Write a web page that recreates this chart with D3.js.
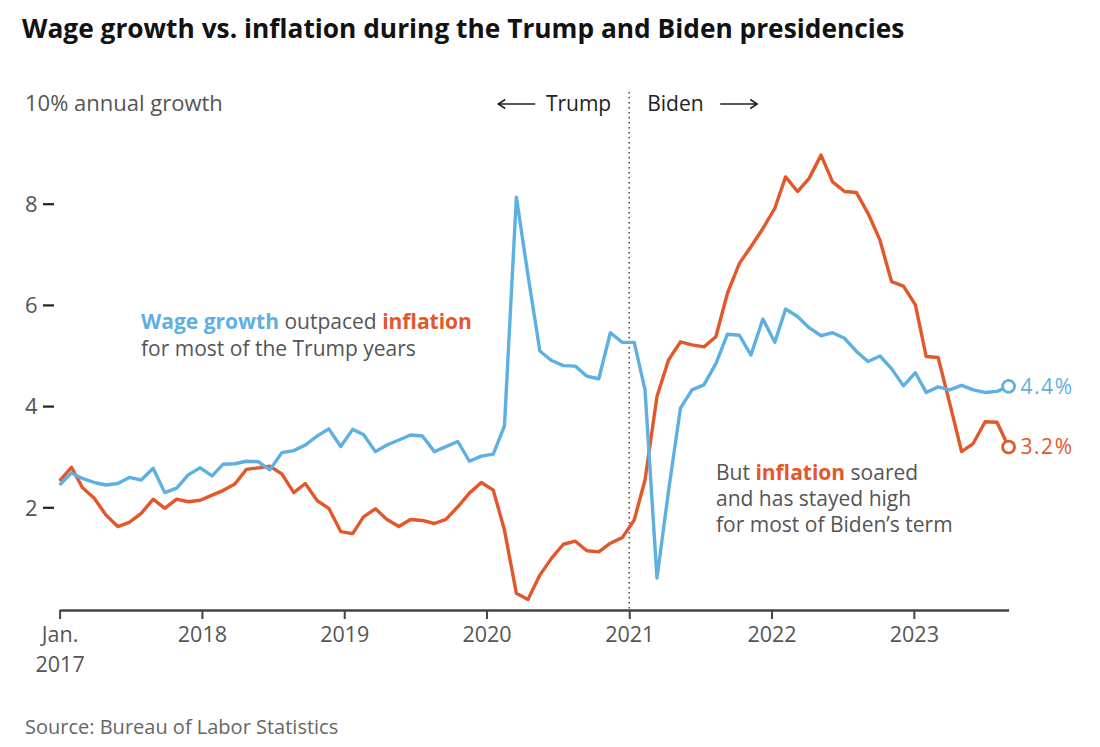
<!DOCTYPE html>
<html>
<head>
<meta charset="utf-8">
<script src="https://cdn.jsdelivr.net/npm/d3@7"></script>
<style>
  html, body { margin: 0; padding: 0; background: #fff; }
  svg text { font-family: "Open Sans", Roboto, sans-serif; }
</style>
</head>
<body>
<svg id="chart" width="1100" height="747"></svg>
<script>
// ---- Data, monthly from Jan. 2017 ----
const startMonth = new Date(2017, 0, 1);
const inflation = [
  2.53, 2.80, 2.40, 2.19, 1.86, 1.63, 1.71, 1.89, 2.17, 1.99, 2.17, 2.12,
  2.15, 2.25, 2.34, 2.47, 2.76, 2.79, 2.82, 2.67, 2.30, 2.48, 2.14, 1.99,
  1.53, 1.49, 1.82, 1.98, 1.77, 1.63, 1.77, 1.75, 1.69, 1.77, 2.02, 2.29,
  2.50, 2.35, 1.56, 0.31, 0.19, 0.67, 1.00, 1.28, 1.34, 1.15, 1.13, 1.30,
  1.41, 1.76, 2.55, 4.20, 4.92, 5.28, 5.22, 5.18, 5.38, 6.24, 6.83, 7.16,
  7.52, 7.92, 8.54, 8.25, 8.51, 8.97, 8.44, 8.25, 8.23, 7.82, 7.29, 6.47,
  6.38, 6.01, 4.99, 4.97, 4.07, 3.11, 3.27, 3.70, 3.69, 3.20
];
const wageGrowth = [
  2.45, 2.69, 2.58, 2.50, 2.45, 2.48, 2.60, 2.55, 2.78, 2.30, 2.39, 2.65,
  2.79, 2.63, 2.86, 2.87, 2.92, 2.91, 2.75, 3.09, 3.13, 3.24, 3.42, 3.56,
  3.21, 3.55, 3.45, 3.11, 3.24, 3.34, 3.44, 3.42, 3.11, 3.21, 3.31, 2.92,
  3.02, 3.06, 3.62, 8.14, 6.60, 5.10, 4.91, 4.81, 4.80, 4.60, 4.55, 5.46,
  5.27, 5.27, 4.33, 0.61, 2.33, 3.97, 4.33, 4.43, 4.85, 5.43, 5.41, 5.02,
  5.73, 5.27, 5.93, 5.78, 5.56, 5.40, 5.46, 5.35, 5.09, 4.89, 5.00, 4.75,
  4.41, 4.67, 4.28, 4.39, 4.33, 4.42, 4.33, 4.28, 4.30, 4.40
];
const yTicks = [2, 4, 6, 8];
const xTickYears = [2017, 2018, 2019, 2020, 2021, 2022, 2023];
const endLabels = { wage: "4.4%", inflation: "3.2%" };

const months = d3.range(inflation.length).map(i => d3.timeMonth.offset(startMonth, i));

// ---- Styles ----
const BLUE = "#5fb0e2";
const RED = "#e2582b";
const INK = "#222";
const GRAY = "#555";

const svg = d3.select("#chart");

// ---- Scales ----
const xRange = [59.6, 1008.6];
const xData = d3.scaleTime()
  .domain([months[0], months[months.length - 1]])
  .range(xRange);
const xAxisScale = d3.scaleTime()
  .domain([new Date(2017, 0, 1), new Date(2023, 8, 1)])
  .range(xRange);
const y = d3.scaleLinear().domain([0, 10]).range([609, 103]);

// ---- Title ----
svg.append("text")
  .attr("x", 22).attr("y", 38)
  .attr("font-size", 26.3).attr("font-weight", 700).attr("fill", "#121212")
  .text("Wage growth vs. inflation during the Trump and Biden presidencies");

// ---- Y axis (custom: number + dash) ----
const yg = svg.append("g");
yg.append("text")
  .attr("x", 25).attr("y", y(10)).attr("dy", "0.35em")
  .attr("font-size", 22).attr("fill", GRAY)
  .text("10% annual growth");
yTicks.forEach(t => {
  yg.append("text")
    .attr("x", 25).attr("y", y(t)).attr("dy", "0.35em")
    .attr("font-size", 22).attr("fill", GRAY)
    .text(t);
  yg.append("line")
    .attr("x1", 43).attr("x2", 54)
    .attr("y1", y(t)).attr("y2", y(t))
    .attr("stroke", INK).attr("stroke-width", 2.2);
});

// ---- Trump / Biden divider ----
const inaug = new Date(2021, 0, 1);
const xi = xAxisScale(inaug);
svg.append("line")
  .attr("x1", xi).attr("x2", xi)
  .attr("y1", 92).attr("y2", y(0))
  .attr("stroke", "#444").attr("stroke-width", 1.5)
  .attr("stroke-dasharray", "1.5,3.5");
svg.append("text")
  .attr("x", xi - 18).attr("y", 104).attr("dy", "0.35em")
  .attr("text-anchor", "end").attr("font-size", 21).attr("fill", INK)
  .text("Trump");
svg.append("text")
  .attr("x", xi + 18).attr("y", 104).attr("dy", "0.35em")
  .attr("font-size", 21).attr("fill", INK)
  .text("Biden");
svg.append("path")
  .attr("d", `M${xi - 94},104 H${xi - 131} M${xi - 124},99.5 L${xi - 131},104 L${xi - 124},108.5`)
  .attr("fill", "none").attr("stroke", INK).attr("stroke-width", 1.5);
svg.append("path")
  .attr("d", `M${xi + 91},104 H${xi + 128} M${xi + 121},99.5 L${xi + 128},104 L${xi + 121},108.5`)
  .attr("fill", "none").attr("stroke", INK).attr("stroke-width", 1.5);

// ---- X axis ----
const xAxis = d3.axisBottom(xAxisScale)
  .tickValues(xTickYears.map(yr => new Date(yr, 0, 1)))
  .tickSize(9).tickSizeOuter(0)
  .tickFormat(d => d.getFullYear() === 2017 ? "Jan." : d.getFullYear());
const xg = svg.append("g")
  .attr("transform", `translate(0,${y(0) + 1})`)
  .call(xAxis);
xg.select(".domain").attr("stroke", "#444").attr("stroke-width", 2.5);
xg.selectAll(".tick line").attr("stroke", "#444").attr("stroke-width", 2);
xg.selectAll(".tick text")
  .attr("font-family", "'Open Sans', sans-serif")
  .attr("font-size", 21.5).attr("fill", GRAY).attr("y", 17).attr("dy", "0.71em");
// second line of the first tick label
xg.selectAll(".tick").filter(d => d.getFullYear() === 2017)
  .append("text")
  .attr("font-family", "'Open Sans', sans-serif")
  .attr("font-size", 21.5).attr("fill", GRAY)
  .attr("y", 47).attr("dy", "0.71em").attr("text-anchor", "middle")
  .text("2017");

// ---- Lines ----
const line = vals => d3.line()
  .x((d, i) => xData(months[i]))
  .y(d => y(d))(vals);

svg.append("path")
  .attr("d", line(inflation))
  .attr("fill", "none").attr("stroke", RED)
  .attr("stroke-width", 3.4).attr("stroke-linejoin", "round");
svg.append("path")
  .attr("d", line(wageGrowth))
  .attr("fill", "none").attr("stroke", BLUE)
  .attr("stroke-width", 3.4).attr("stroke-linejoin", "round");

// ---- End markers ----
const lastI = months.length - 1;
[[wageGrowth, BLUE, endLabels.wage], [inflation, RED, endLabels.inflation]].forEach(([vals, col, lab]) => {
  const cx = xData(months[lastI]), cy = y(vals[lastI]);
  svg.append("circle")
    .attr("cx", cx).attr("cy", cy).attr("r", 6)
    .attr("fill", "#fff").attr("stroke", col).attr("stroke-width", 2.8);
  svg.append("text")
    .attr("x", cx + 12).attr("y", cy).attr("dy", "0.35em")
    .attr("font-size", 21).attr("letter-spacing", 1.5).attr("fill", col)
    .text(lab);
});

// ---- Annotations ----
const a1 = svg.append("text").attr("x", 141).attr("y", 329).attr("font-size", 21).attr("fill", GRAY);
a1.append("tspan").attr("fill", BLUE).attr("font-weight", 700).text("Wage growth");
a1.append("tspan").text(" outpaced ");
a1.append("tspan").attr("fill", RED).attr("font-weight", 700).text("inflation");
svg.append("text").attr("x", 141).attr("y", 356).attr("font-size", 21).attr("fill", GRAY)
  .text("for most of the Trump years");

const a2 = svg.append("text").attr("x", 716).attr("y", 480).attr("font-size", 21).attr("fill", GRAY);
a2.append("tspan").text("But ");
a2.append("tspan").attr("fill", RED).attr("font-weight", 700).text("inflation");
a2.append("tspan").text(" soared");
svg.append("text").attr("x", 716).attr("y", 506).attr("font-size", 21).attr("fill", GRAY)
  .text("and has stayed high");
svg.append("text").attr("x", 716).attr("y", 532).attr("font-size", 21).attr("fill", GRAY)
  .text("for most of Biden\u2019s term");

// ---- Source ----
svg.append("text").attr("x", 25).attr("y", 734).attr("font-size", 20).attr("fill", "#666")
  .text("Source: Bureau of Labor Statistics");
</script>
</body>
</html>
